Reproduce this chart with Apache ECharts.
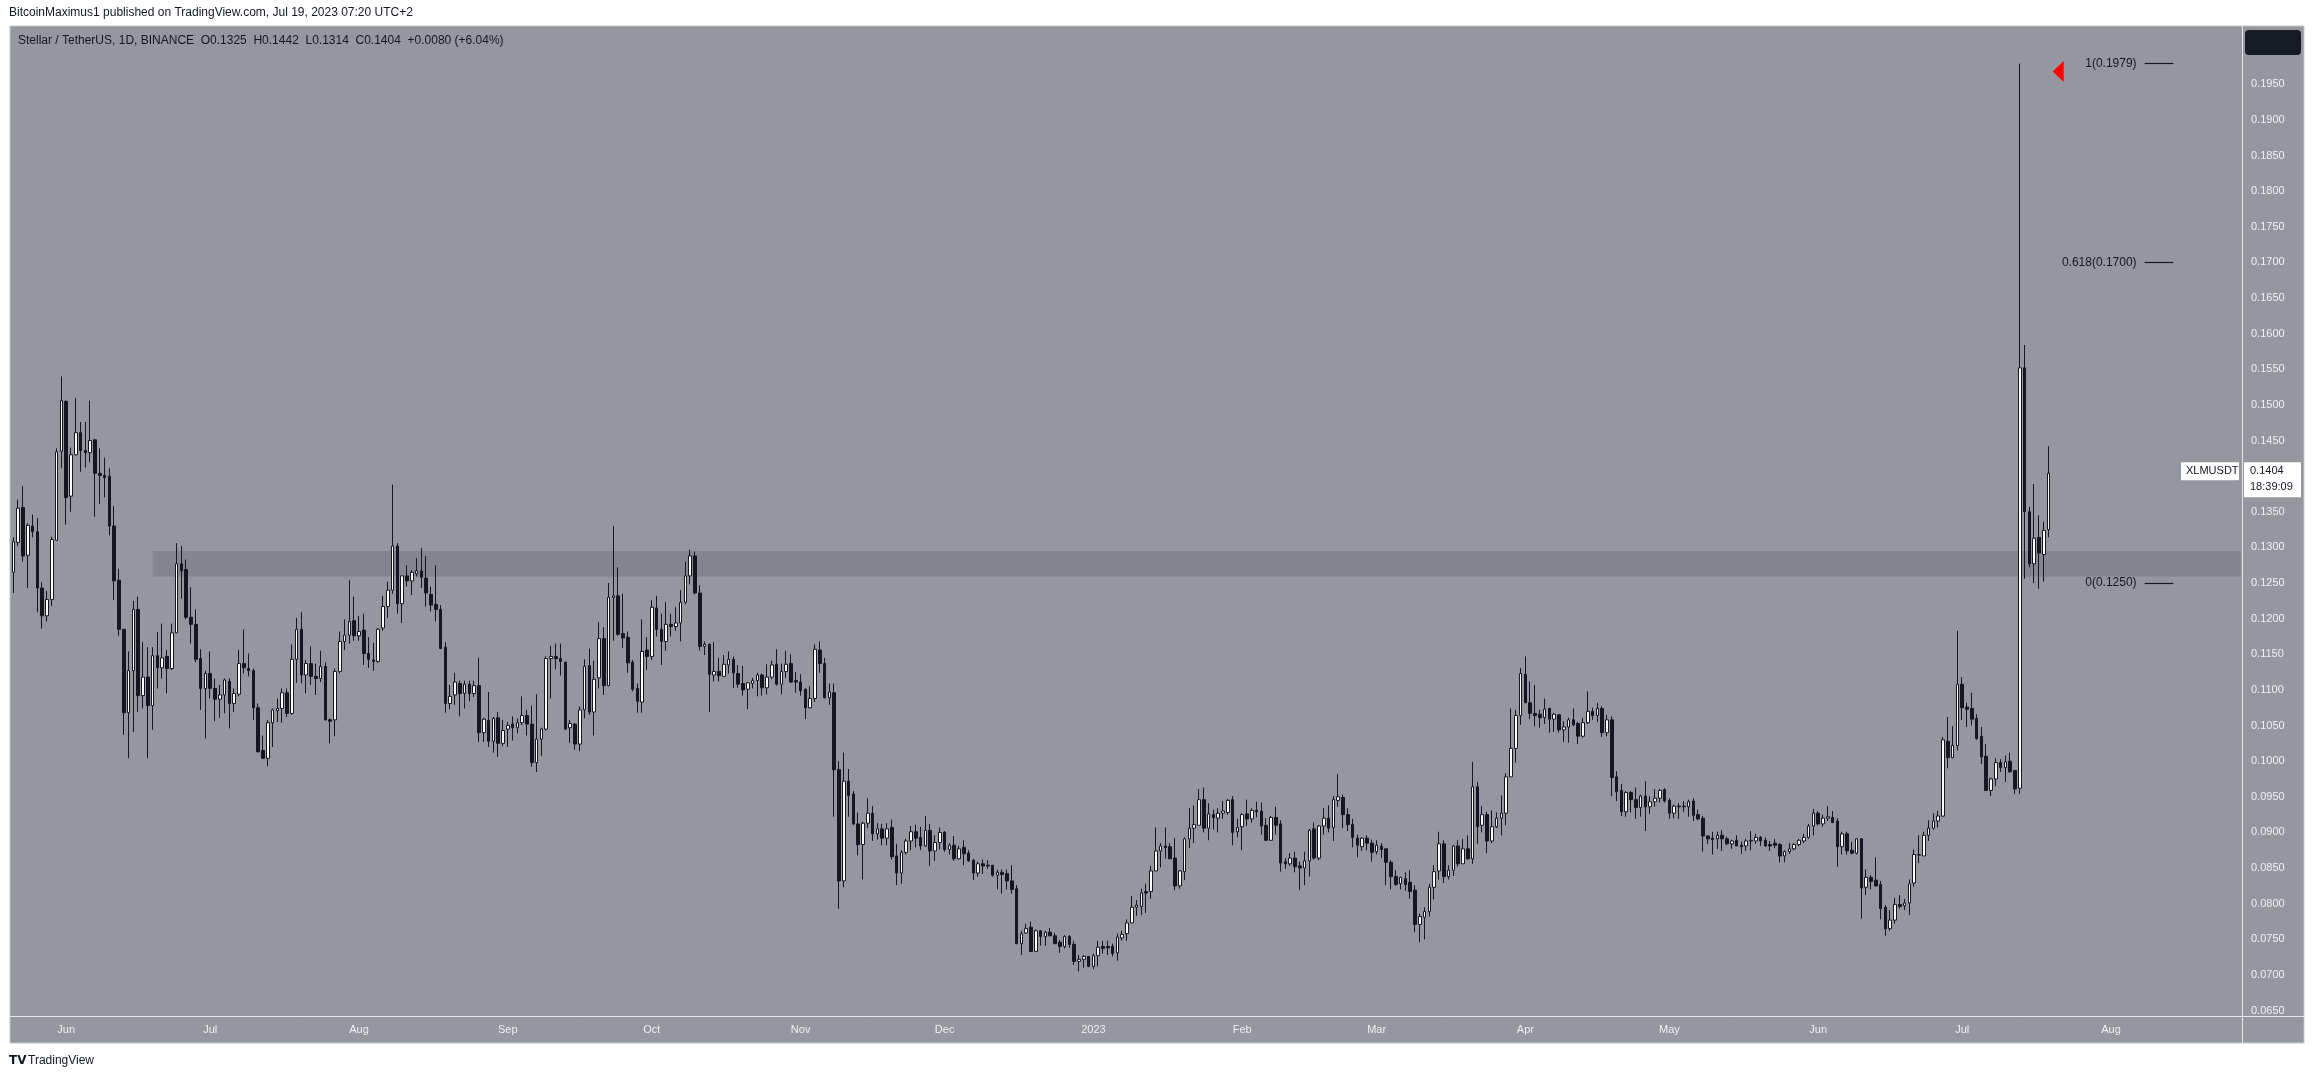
<!DOCTYPE html>
<html>
<head>
<meta charset="utf-8">
<script src="https://cdn.jsdelivr.net/npm/echarts@6/dist/echarts.min.js"></script>
<style>
html,body{margin:0;padding:0;background:#ffffff;}
#chart{width:2315px;height:1079px;}
</style>
</head>
<body>
<div id="chart"></div>
<script>
// ---- Data (XLM/USDT daily) ----
const firstDay = Date.UTC(2022, 4, 21);   // first candle: 2022-05-21
const axisDays = 465;                      // categories shown on the time axis (incl. empty space on the right)

const opens = [
.1265,.1307,.1356,.1289,.1330,.1322,.1243,.1204,.1227,.1310,
.1435,.1505,.1372,.1430,.1461,.1436,.1433,.1451,.1404,.1401,
.1400,.1330,.1254,.1185,.1068,.1127,.1213,.1092,.1118,.1078,
.1148,.1131,.1147,.1130,.1180,.1277,.1269,.1202,.1192,.1144,
.1102,.1123,.1102,.1087,.1093,.1112,.1081,.1094,.1137,.1130,
.1127,.1075,.1015,.1004,.1054,.1071,.1074,.1096,.1067,.1143,
.1185,.1121,.1137,.1119,.1116,.1133,.1058,.1058,.1126,.1168,
.1177,.1197,.1176,.1184,.1151,.1142,.1140,.1187,.1217,.1240,
.1302,.1221,.1260,.1253,.1263,.1267,.1257,.1234,.1220,.1213,
.1160,.1081,.1093,.1109,.1095,.1108,.1095,.1106,.1040,.1057,
.1028,.1061,.1025,.1045,.1052,.1047,.1054,.1064,.1052,.0998,
.1031,.1045,.1144,.1147,.1144,.1139,.1047,.1052,.1024,.1072,
.1134,.1069,.1117,.1172,.1106,.1230,.1232,.1179,.1174,.1139,
.1102,.1083,.1156,.1147,.1215,.1185,.1168,.1192,.1189,.1194,
.1223,.1260,.1288,.1236,.1161,.1164,.1121,.1126,.1119,.1135,
.1143,.1123,.1109,.1101,.1109,.1113,.1121,.1103,.1118,.1136,
.1108,.1126,.1137,.1113,.1111,.1101,.1075,.1088,.1156,.1137,
.1089,.1096,.0988,.0832,.0972,.0954,.0912,.0883,.0913,.0927,
.0898,.0905,.0892,.0907,.0867,.0843,.0872,.0888,.0901,.0893,
.0881,.0903,.0874,.0886,.0900,.0876,.0882,.0863,.0879,.0871,
.0861,.0843,.0856,.0854,.0854,.0840,.0844,.0842,.0832,.0821,
.0744,.0759,.0767,.0733,.0762,.0754,.0760,.0755,.0746,.0740,
.0754,.0743,.0719,.0722,.0726,.0712,.0727,.0740,.0740,.0740,
.0731,.0752,.0758,.0773,.0795,.0796,.0817,.0817,.0846,.0874,
.0881,.0880,.0864,.0825,.0845,.0891,.0906,.0910,.0946,.0906,
.0925,.0920,.0927,.0928,.0946,.0901,.0908,.0926,.0919,.0931,
.0930,.0910,.0889,.0921,.0912,.0859,.0856,.0864,.0853,.0850,
.0860,.0905,.0864,.0909,.0920,.0907,.0945,.0949,.0925,.0911,
.0892,.0880,.0892,.0885,.0873,.0881,.0877,.0858,.0838,.0828,
.0835,.0830,.0819,.0771,.0781,.0789,.0823,.0846,.0884,.0838,
.0847,.0881,.0856,.0877,.0863,.0964,.0910,.0925,.0888,.0908,
.0920,.0927,.0978,.1018,.1064,.1122,.1082,.1067,.1066,.1061,
.1074,.1059,.1065,.1044,.1048,.1058,.1053,.1035,.1054,.1070,
.1064,.1074,.1040,.1058,.0978,.0959,.0929,.0956,.0946,.0935,
.0951,.0936,.0943,.0948,.0960,.0945,.0927,.0937,.0936,.0936,
.0944,.0925,.0920,.0895,.0892,.0891,.0896,.0891,.0884,.0889,
.0882,.0881,.0888,.0888,.0893,.0889,.0883,.0885,.0883,.0867,
.0873,.0877,.0883,.0888,.0893,.0909,.0927,.0912,.0920,.0921,
.0916,.0880,.0898,.0875,.0871,.0891,.0823,.0837,.0833,.0827,
.0795,.0765,.0777,.0799,.0797,.0801,.0829,.0868,.0867,.0896,
.0906,.0916,.0923,.1028,.1005,.1022,.1108,.1076,.1074,.1060,
.1035,.1007,.0959,.0975,.0998,.0991,.1000,.0987,.0962,.1552,
.1350,.1277,.1314,.1290,.1325
];
const highs = [
.1314,.1367,.1386,.1334,.1346,.1341,.1251,.1239,.1315,.1439,
.1540,.1506,.1440,.1510,.1476,.1476,.1506,.1451,.1439,.1426,
.1411,.1358,.1270,.1185,.1154,.1225,.1231,.1167,.1160,.1160,
.1181,.1193,.1156,.1193,.1306,.1302,.1283,.1244,.1213,.1157,
.1127,.1154,.1116,.1107,.1116,.1116,.1102,.1156,.1185,.1151,
.1130,.1081,.1036,.1058,.1074,.1088,.1102,.1102,.1164,.1201,
.1209,.1142,.1161,.1137,.1155,.1139,.1060,.1130,.1182,.1199,
.1254,.1231,.1204,.1207,.1174,.1166,.1187,.1232,.1252,.1388,
.1306,.1260,.1275,.1268,.1285,.1299,.1288,.1245,.1275,.1219,
.1167,.1107,.1124,.1113,.1113,.1113,.1113,.1145,.1061,.1097,
.1062,.1069,.1058,.1055,.1063,.1060,.1091,.1072,.1078,.1094,
.1047,.1147,.1162,.1165,.1165,.1139,.1058,.1053,.1077,.1143,
.1158,.1141,.1195,.1188,.1250,.1330,.1272,.1235,.1182,.1142,
.1109,.1199,.1174,.1226,.1232,.1207,.1223,.1207,.1216,.1240,
.1280,.1297,.1294,.1247,.1168,.1165,.1167,.1145,.1149,.1154,
.1147,.1135,.1134,.1111,.1117,.1124,.1123,.1136,.1141,.1157,
.1137,.1155,.1150,.1125,.1122,.1102,.1105,.1164,.1168,.1145,
.1109,.1109,.1000,.1012,.0989,.0958,.0928,.0915,.0948,.0937,
.0913,.0912,.0913,.0918,.0884,.0875,.0891,.0909,.0911,.0908,
.0923,.0912,.0896,.0907,.0902,.0885,.0895,.0881,.0889,.0875,
.0863,.0859,.0862,.0861,.0854,.0848,.0848,.0848,.0854,.0826,
.0762,.0772,.0775,.0764,.0762,.0762,.0766,.0759,.0749,.0756,
.0756,.0748,.0728,.0728,.0726,.0730,.0748,.0748,.0748,.0744,
.0758,.0762,.0778,.0811,.0805,.0821,.0828,.0853,.0907,.0885,
.0907,.0885,.0892,.0847,.0893,.0934,.0938,.0961,.0963,.0941,
.0932,.0934,.0944,.0947,.0951,.0919,.0927,.0946,.0934,.0943,
.0942,.0920,.0923,.0936,.0917,.0864,.0871,.0873,.0859,.0873,
.0905,.0914,.0910,.0934,.0938,.0951,.0982,.0953,.0934,.0919,
.0897,.0893,.0896,.0890,.0889,.0885,.0877,.0861,.0847,.0838,
.0844,.0847,.0826,.0786,.0795,.0828,.0854,.0901,.0889,.0854,
.0882,.0889,.0891,.0896,.0999,.0971,.0937,.0929,.0931,.0928,
.0952,.0983,.1074,.1072,.1131,.1147,.1112,.1107,.1072,.1088,
.1075,.1068,.1066,.1056,.1061,.1074,.1055,.1061,.1098,.1075,
.1082,.1077,.1065,.1063,.0986,.0968,.0958,.0958,.0963,.0953,
.0972,.0951,.0961,.0961,.0962,.0948,.0939,.0941,.0944,.0946,
.0948,.0932,.0923,.0896,.0901,.0901,.0903,.0894,.0890,.0896,
.0887,.0891,.0902,.0898,.0895,.0893,.0888,.0891,.0885,.0875,
.0885,.0885,.0891,.0898,.0912,.0933,.0930,.0925,.0937,.0930,
.0920,.0901,.0901,.0887,.0892,.0892,.0848,.0840,.0865,.0832,
.0798,.0791,.0808,.0812,.0807,.0834,.0876,.0896,.0901,.0917,
.0927,.0930,.1034,.1062,.1049,.1183,.1118,.1082,.1096,.1066,
.1048,.1024,.0977,.1004,.1003,.1008,.1012,.0987,.1979,.1584,
.1357,.1389,.1345,.1336,.1442
];
const lows = [
.1236,.1302,.1280,.1243,.1314,.1209,.1186,.1196,.1218,.1309,
.1411,.1332,.1350,.1429,.1406,.1412,.1420,.1343,.1361,.1370,
.1317,.1226,.1176,.1037,.1004,.1041,.1069,.1074,.1004,.1044,
.1102,.1116,.1095,.1128,.1180,.1228,.1199,.1165,.1139,.1072,
.1032,.1088,.1056,.1061,.1067,.1046,.1069,.1091,.1123,.1119,
.1058,.1013,.1004,.0993,.1020,.1055,.1054,.1062,.1065,.1110,
.1109,.1095,.1107,.1093,.1111,.1057,.1025,.1035,.1123,.1156,
.1165,.1169,.1169,.1135,.1131,.1127,.1138,.1183,.1201,.1235,
.1207,.1194,.1245,.1233,.1259,.1243,.1217,.1210,.1196,.1158,
.1068,.1073,.1079,.1063,.1074,.1084,.1090,.1027,.1027,.1020,
.1012,.1006,.1021,.1020,.1029,.1039,.1051,.1036,.0992,.0985,
.1007,.1043,.1088,.1129,.1120,.1044,.1026,.1016,.1014,.1060,
.1065,.1036,.1102,.1093,.1105,.1169,.1176,.1159,.1124,.1098,
.1068,.1068,.1128,.1142,.1175,.1135,.1155,.1175,.1183,.1168,
.1220,.1248,.1234,.1155,.1149,.1069,.1112,.1112,.1119,.1123,
.1103,.1103,.1092,.1073,.1102,.1091,.1092,.1094,.1115,.1106,
.1094,.1117,.1110,.1096,.1092,.1059,.1074,.1083,.1124,.1088,
.1079,.0922,.0793,.0823,.0922,.0910,.0868,.0834,.0906,.0888,
.0890,.0882,.0882,.0862,.0826,.0828,.0869,.0875,.0879,.0875,
.0880,.0853,.0860,.0876,.0873,.0869,.0860,.0862,.0854,.0859,
.0833,.0838,.0842,.0849,.0838,.0820,.0814,.0820,.0814,.0743,
.0728,.0758,.0732,.0733,.0741,.0741,.0754,.0743,.0731,.0737,
.0738,.0714,.0705,.0710,.0711,.0708,.0712,.0730,.0728,.0726,
.0720,.0748,.0748,.0773,.0783,.0784,.0787,.0807,.0846,.0851,
.0863,.0863,.0819,.0821,.0833,.0878,.0885,.0910,.0900,.0889,
.0904,.0900,.0919,.0925,.0882,.0893,.0875,.0909,.0914,.0921,
.0897,.0888,.0888,.0897,.0845,.0849,.0853,.0844,.0819,.0826,
.0838,.0862,.0861,.0897,.0900,.0888,.0936,.0906,.0902,.0879,
.0865,.0874,.0875,.0859,.0869,.0864,.0826,.0820,.0825,.0820,
.0818,.0807,.0760,.0746,.0750,.0782,.0806,.0834,.0829,.0834,
.0839,.0852,.0856,.0862,.0856,.0884,.0900,.0871,.0885,.0906,
.0896,.0910,.0978,.0998,.1051,.1082,.1059,.1049,.1047,.1052,
.1040,.1041,.1040,.1027,.1026,.1049,.1024,.1033,.1052,.1058,
.1055,.1034,.1035,.0951,.0944,.0923,.0922,.0928,.0919,.0922,
.0902,.0926,.0936,.0942,.0942,.0919,.0920,.0919,.0929,.0922,
.0916,.0917,.0873,.0884,.0869,.0877,.0874,.0882,.0877,.0881,
.0870,.0874,.0875,.0884,.0881,.0880,.0874,.0878,.0858,.0858,
.0870,.0875,.0881,.0885,.0891,.0896,.0910,.0908,.0916,.0913,
.0852,.0869,.0869,.0869,.0869,.0779,.0812,.0820,.0824,.0778,
.0755,.0762,.0772,.0793,.0791,.0784,.0824,.0857,.0867,.0888,
.0904,.0907,.0922,.0990,.1004,.1015,.1058,.1048,.1050,.1030,
.0996,.0958,.0951,.0965,.0985,.0971,.0984,.0954,.0954,.1256,
.1272,.1250,.1242,.1252,.1314
];
const closes = [
.1308,.1355,.1288,.1331,.1322,.1243,.1204,.1227,.1311,.1434,
.1506,.1370,.1430,.1461,.1436,.1433,.1450,.1404,.1401,.1398,
.1330,.1253,.1185,.1068,.1127,.1213,.1092,.1118,.1078,.1148,
.1131,.1145,.1130,.1180,.1277,.1267,.1202,.1192,.1143,.1102,
.1123,.1102,.1087,.1093,.1114,.1081,.1095,.1137,.1131,.1127,
.1075,.1013,.1004,.1054,.1072,.1074,.1096,.1067,.1143,.1185,
.1121,.1137,.1119,.1116,.1133,.1058,.1056,.1126,.1168,.1177,
.1196,.1176,.1182,.1151,.1143,.1140,.1185,.1217,.1240,.1302,
.1221,.1260,.1253,.1265,.1267,.1258,.1236,.1219,.1213,.1158,
.1081,.1091,.1111,.1095,.1108,.1095,.1106,.1040,.1059,.1028,
.1060,.1025,.1043,.1050,.1047,.1054,.1064,.1052,.0998,.1031,
.1045,.1144,.1147,.1144,.1140,.1045,.1053,.1024,.1072,.1133,
.1069,.1115,.1172,.1106,.1230,.1232,.1178,.1173,.1138,.1101,
.1084,.1154,.1147,.1216,.1185,.1168,.1192,.1189,.1194,.1223,
.1260,.1288,.1236,.1161,.1164,.1122,.1126,.1120,.1136,.1143,
.1124,.1108,.1100,.1110,.1113,.1121,.1103,.1118,.1135,.1108,
.1126,.1136,.1111,.1111,.1099,.1075,.1088,.1157,.1137,.1089,
.1097,.0988,.0832,.0972,.0952,.0912,.0883,.0913,.0927,.0898,
.0905,.0892,.0905,.0866,.0843,.0872,.0888,.0901,.0892,.0881,
.0903,.0874,.0886,.0900,.0876,.0882,.0863,.0877,.0870,.0860,
.0843,.0856,.0853,.0853,.0840,.0844,.0841,.0832,.0820,.0744,
.0758,.0765,.0733,.0762,.0754,.0760,.0755,.0744,.0740,.0754,
.0743,.0719,.0722,.0726,.0712,.0727,.0739,.0737,.0738,.0730,
.0753,.0757,.0773,.0795,.0798,.0815,.0815,.0846,.0874,.0881,
.0879,.0863,.0825,.0846,.0891,.0906,.0911,.0946,.0906,.0926,
.0921,.0927,.0930,.0945,.0900,.0907,.0925,.0919,.0931,.0929,
.0909,.0889,.0921,.0910,.0857,.0856,.0864,.0852,.0850,.0860,
.0903,.0864,.0909,.0920,.0906,.0946,.0950,.0925,.0911,.0893,
.0882,.0892,.0885,.0872,.0882,.0876,.0858,.0838,.0827,.0837,
.0827,.0817,.0771,.0782,.0789,.0823,.0845,.0884,.0838,.0847,
.0881,.0856,.0877,.0863,.0964,.0908,.0925,.0888,.0908,.0920,
.0927,.0978,.1018,.1064,.1123,.1082,.1067,.1064,.1061,.1073,
.1059,.1066,.1044,.1048,.1058,.1051,.1035,.1054,.1070,.1064,
.1074,.1040,.1058,.0977,.0957,.0929,.0956,.0946,.0935,.0951,
.0936,.0943,.0948,.0959,.0944,.0927,.0937,.0936,.0937,.0943,
.0924,.0919,.0895,.0891,.0890,.0896,.0891,.0884,.0888,.0881,
.0880,.0888,.0889,.0893,.0888,.0881,.0881,.0882,.0867,.0873,
.0877,.0883,.0889,.0893,.0909,.0927,.0912,.0920,.0922,.0914,
.0880,.0898,.0874,.0871,.0891,.0822,.0837,.0831,.0825,.0793,
.0765,.0777,.0799,.0796,.0801,.0828,.0869,.0869,.0896,.0906,
.0916,.0923,.1030,.1005,.1022,.1108,.1075,.1073,.1059,.1032,
.1006,.0959,.0975,.0998,.0991,.0999,.0985,.0961,.1552,.1350,
.1277,.1313,.1292,.1324,.1404
];

const yTicks = [0.065,0.070,0.075,0.080,0.085,0.090,0.095,0.100,0.105,0.110,0.115,0.120,0.125,
  0.130,0.135,0.140,0.145,0.150,0.155,0.160,0.165,0.170,0.175,0.180,0.185,0.190,0.195];
const monthNames = ['Jan','Feb','Mar','Apr','May','Jun','Jul','Aug','Sep','Oct','Nov','Dec'];

// Annotations
const fibLevels = [
  {label: '1(0.1979)', value: 0.1979},
  {label: '0.618(0.1700)', value: 0.1700},
  {label: '0(0.1250)', value: 0.1250}
];
const fibStartIdx = 444, fibEndIdx = 450;
const zoneLow = 0.1259, zoneHigh = 0.1295, zoneStartIdx = 29;
const markerIdx = 426, markerValue = 0.1968;
const symbolName = 'XLMUSDT', lastTime = '18:39:09';

// ---- Build ----
const categories = [];
for (let i = 0; i < axisDays; i++) {
  categories.push(new Date(firstDay + i * 86400000).toISOString().slice(0, 10));
}
const candleData = opens.map((o, i) => [o, closes[i], lows[i], highs[i]]);
const lastClose = closes[closes.length - 1];

const FONT = "'Liberation Sans', Arial, sans-serif";
const DARK = '#131722';
const AXIS_TXT = '#eef0f4';

const chart = echarts.init(document.getElementById('chart'), null, {renderer: 'canvas'});

const yMin = 0.06424, yMax = 0.20317;

function staticGraphics() {
  return [
    {type: 'rect', z: -100, silent: true, shape: {x: 10, y: 26, width: 2294, height: 1017},
      style: {fill: '#94979f', stroke: '#c3c6ce', lineWidth: 1}},
    {type: 'line', z: 50, silent: true, shape: {x1: 10, y1: 1016.5, x2: 2304, y2: 1016.5},
      style: {stroke: '#e4e6ea', lineWidth: 1}},
    {type: 'line', z: 50, silent: true, shape: {x1: 2242.5, y1: 26, x2: 2242.5, y2: 1043},
      style: {stroke: '#e4e6ea', lineWidth: 1}},
    {type: 'rect', z: 50, silent: true, shape: {x: 2245, y: 30, width: 56, height: 25, r: 4},
      style: {fill: '#161a25'}},
    {type: 'text', z: 50, silent: true, x: 9, y: 13,
      style: {text: 'BitcoinMaximus1 published on TradingView.com, Jul 19, 2023 07:20 UTC+2',
        fill: DARK, font: "12px " + FONT, textVerticalAlign: 'middle'}},
    {type: 'text', z: 50, silent: true, x: 18, y: 41,
      style: {text: 'Stellar / TetherUS, 1D, BINANCE  O0.1325  H0.1442  L0.1314  C0.1404  +0.0080 (+6.04%)',
        fill: DARK, font: "12px " + FONT, textVerticalAlign: 'middle'}},
    {type: 'text', z: 50, silent: true, x: 9, y: 1061,
      style: {text: 'TV', fill: DARK, font: "bold 12px 'DejaVu Sans', sans-serif", textVerticalAlign: 'middle'}},
    {type: 'text', z: 50, silent: true, x: 28, y: 1061,
      style: {text: 'TradingView', fill: DARK, font: "12px " + FONT, textVerticalAlign: 'middle'}}
  ];
}

const option = {
  animation: false,
  backgroundColor: '#ffffff',
  grid: {left: 11, top: 26, width: 2232, height: 990, containLabel: false},
  xAxis: {
    type: 'category',
    data: categories,
    boundaryGap: true,
    axisLine: {show: false},
    axisTick: {show: false},
    splitLine: {show: false},
    axisLabel: {
      color: AXIS_TXT, fontSize: 11, fontFamily: FONT, margin: 8,
      interval: (idx, val) => val.slice(8) === '01',
      formatter: (val) => {
        const m = +val.slice(5, 7);
        return m === 1 ? val.slice(0, 4) : monthNames[m - 1];
      }
    }
  },
  yAxis: {
    type: 'value',
    position: 'right',
    min: yMin, max: yMax,
    axisLine: {show: false},
    axisTick: {show: false},
    splitLine: {show: false},
    axisLabel: {
      customValues: yTicks,
      color: AXIS_TXT, fontSize: 11, fontFamily: FONT, margin: 8,
      formatter: (v) => v.toFixed(4)
    }
  },
  series: [
    {
      type: 'line', data: [], z: 1, silent: true,
      markArea: {
        silent: true,
        itemStyle: {color: '#83868e'},
        data: [[{xAxis: categories[zoneStartIdx], yAxis: zoneHigh},
                {xAxis: categories[axisDays - 1], yAxis: zoneLow}]]
      }
    },
    {
      type: 'candlestick',
      z: 3,
      barWidth: 3,
      data: candleData,
      itemStyle: {
        color: '#ffffff', color0: DARK,
        borderColor: DARK, borderColor0: DARK, borderWidth: 1
      },
      markLine: {
        silent: true,
        symbol: ['none', 'none'],
        lineStyle: {color: DARK, width: 1.2, type: 'solid'},
        label: {show: true, position: 'start', distance: 8, color: DARK, fontSize: 12, fontFamily: FONT},
        data: fibLevels.map(f => [
          {coord: [categories[fibStartIdx], f.value], label: {formatter: f.label}},
          {coord: [categories[fibEndIdx], f.value]}
        ])
      },
      markPoint: {
        silent: true,
        label: {show: false},
        data: [{coord: [categories[markerIdx], markerValue], symbol: 'triangle',
          symbolRotate: 90, symbolSize: [21, 11], itemStyle: {color: '#ff0000'}}]
      }
    }
  ],
  graphic: staticGraphics()
};

chart.setOption(option);

// last-price labels, placed from the data value
const yPix = chart.convertToPixel({yAxisIndex: 0}, lastClose);
const extra = [
  {type: 'rect', z: 60, silent: true, shape: {x: 2181, y: yPix - 11, width: 58, height: 18},
    style: {fill: '#ffffff'}},
  {type: 'text', z: 61, silent: true, x: 2186, y: yPix - 2,
    style: {text: symbolName, fill: DARK, font: "11px " + FONT, textVerticalAlign: 'middle'}},
  {type: 'rect', z: 60, silent: true, shape: {x: 2244, y: yPix - 11, width: 57, height: 35},
    style: {fill: '#ffffff'}},
  {type: 'text', z: 61, silent: true, x: 2250, y: yPix - 2,
    style: {text: lastClose.toFixed(4), fill: DARK, font: "11px " + FONT, textVerticalAlign: 'middle'}},
  {type: 'text', z: 61, silent: true, x: 2250, y: yPix + 14,
    style: {text: lastTime, fill: DARK, font: "11px " + FONT, textVerticalAlign: 'middle'}}
];
chart.setOption({graphic: staticGraphics().concat(extra)}, {replaceMerge: ['graphic']});
</script>
</body>
</html>
